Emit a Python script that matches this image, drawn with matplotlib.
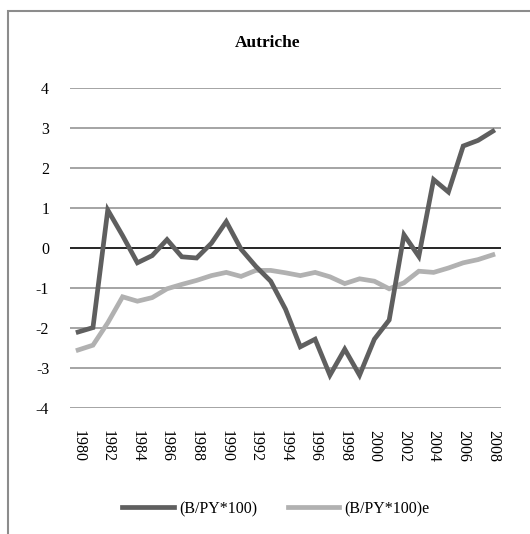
import matplotlib
matplotlib.use("Agg")
import matplotlib.pyplot as plt
from matplotlib.patches import Rectangle

years = list(range(1980, 2009))
solde = [-2.10, -1.99, 0.95, 0.31, -0.37, -0.19, 0.21, -0.22, -0.25, 0.12,
         0.66, -0.03, -0.46, -0.83, -1.53, -2.47, -2.28, -3.18, -2.53, -3.18,
         -2.28, -1.80, 0.33, -0.21, 1.71, 1.40, 2.55, 2.69, 2.92]
solde_e = [-2.55, -2.43, -1.87, -1.22, -1.33, -1.24, -1.02, -0.91, -0.81, -0.69,
           -0.61, -0.71, -0.56, -0.56, -0.62, -0.69, -0.61, -0.72, -0.89, -0.77,
           -0.83, -1.02, -0.87, -0.58, -0.61, -0.50, -0.37, -0.29, -0.17]
yticks = [-4, -3, -2, -1, 0, 1, 2, 3, 4]
xticks = list(range(1980, 2009, 2))

plt.rcParams['font.family'] = ['Liberation Serif', 'DejaVu Serif']

fig = plt.figure(figsize=(5.30, 5.34), dpi=100)
fig.patch.set_facecolor('white')

# outer chart frame (only left and top edges fall inside the canvas)
fig.patches.append(Rectangle((8 / 530, -0.05), 1.2, 1 - 11 / 534 + 0.05,
                             transform=fig.transFigure, fill=False,
                             edgecolor='#8c8c8c', linewidth=1.5))

ax = fig.add_axes([70 / 530, 1 - 408 / 534, 431 / 530, 320 / 534])
ax.set_xlim(1979.45, 2008.55)
ax.set_ylim(-4, 4)

for y in yticks:
    if y == 0:
        continue
    ax.axhline(y, color='#8c8c8c', linewidth=1.1, zorder=1)
ax.axhline(0, color='black', linewidth=1.2, zorder=1)

ax.plot(years, solde, color='#5f5f5f', linewidth=3.4, zorder=3,
        solid_joinstyle='miter', label='(B/PY*100)')
ax.plot(years, solde_e, color='#b1b1b1', linewidth=3.4, zorder=2,
        solid_joinstyle='miter', label='(B/PY*100)e')

for s in ax.spines.values():
    s.set_visible(False)
ax.set_yticks(yticks)
ax.set_yticklabels([str(v) for v in yticks])
ax.set_xticks(xticks)
ax.set_xticklabels([str(v) for v in xticks], rotation=270)
ax.tick_params(axis='both', length=0, labelsize=11.5, colors='black')
ax.tick_params(axis='y', pad=15)
ax.tick_params(axis='x', pad=16)
for lbl in ax.get_yticklabels():
    lbl.set_horizontalalignment('right')

fig.text(268 / 530, 1 - 43 / 534, 'Autriche', ha='center', va='center',
         fontsize=12.5, fontweight='bold')

leg = fig.legend(loc='center', bbox_to_anchor=(276 / 530, 1 - 509 / 534),
                 ncol=2, frameon=False, fontsize=11.5, handlelength=3.2,
                 handletextpad=0.35, columnspacing=1.9)

fig.savefig('out.png', dpi=100, facecolor='white')
